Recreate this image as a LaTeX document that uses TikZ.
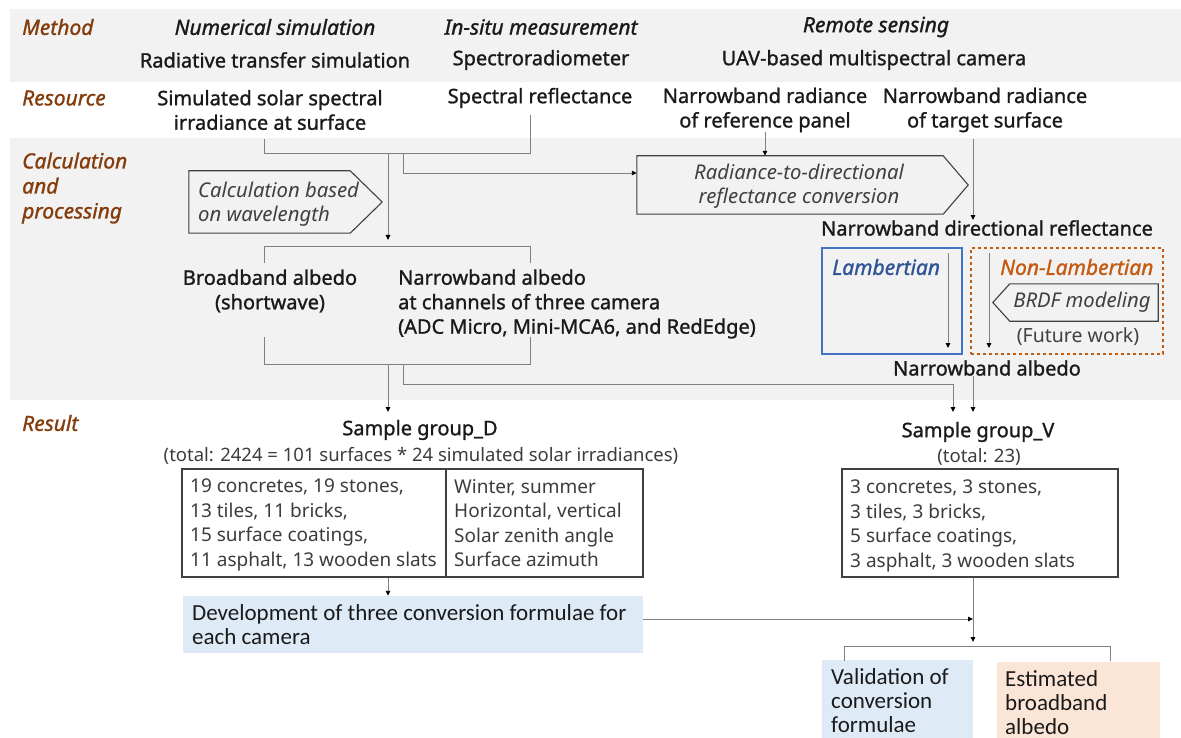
\documentclass[tikz,border=0pt]{standalone}
\usepackage{fontspec}
\setmainfont{Noto Sans}
\newfontfamily\medfont{Noto Sans}[FakeBold=1.2]
\newfontfamily\calfont{Carlito}
\usetikzlibrary{arrows.meta}
\definecolor{band}{HTML}{F2F2F2}
\definecolor{brown}{HTML}{843C0C}
\definecolor{lblue}{HTML}{2F5597}
\definecolor{lborder}{HTML}{4472C4}
\definecolor{orng}{HTML}{C55A11}
\definecolor{linegray}{HTML}{808080}
\definecolor{boxgray}{HTML}{404040}
\definecolor{txtgray}{HTML}{404040}
\definecolor{fillblue}{HTML}{DEEBF7}
\definecolor{fillpeach}{HTML}{FBE5D6}
\definecolor{ink}{HTML}{1A1A1A}
\newcommand{\fs}{\fontsize{20}{24.5}\selectfont}
\newcommand{\fsi}{\fontsize{21}{25}\selectfont}
\newcommand{\fsp}{\fontsize{20.3}{24.5}\selectfont}
\newcommand{\fst}{\fontsize{19}{24.5}\selectfont}
\begin{document}
\begin{tikzpicture}[x=1pt,y=-1pt,
  lbl/.style={anchor=west, inner sep=0pt, text=brown, font=\fsi\medfont\itshape, align=left},
  hd/.style={inner sep=0pt, text=ink, font=\fsi\medfont\itshape},
  tx/.style={inner sep=0pt, text=ink, font=\fs\medfont, align=center},
  lt/.style={inner sep=0pt, text=ink!85, font=\fst, align=left},
  pit/.style={inner sep=0pt, text=txtgray, font=\fsp\itshape},
  conn/.style={draw=linegray, line width=0.9pt},
  arr/.style={conn, -{Triangle[length=5pt,width=4.5pt,color=black]}},
  outline/.style={draw=boxgray, line width=1.1pt},
  cal/.style={inner sep=0pt, text=ink, font=\calfont\fontsize{23}{24}\selectfont, align=left}
]
\useasboundingbox (0,0) rectangle (1181,738);
% bands
\fill[band] (10,9) rectangle (1181,82);
\fill[band] (10,138) rectangle (1181,400);

% row labels
\node[lbl] (mMethod) at (22,27) {Method};
\node[lbl] (mRes) at (22,98) {Resource};
\node[lbl] (mCalc) at (22,188) {Calculation\\and\\processing};
\node[lbl] (mResult) at (22,423) {Result};

% method row
\node[hd] (numsim) at (275,27) {Numerical simulation};
\node[hd] (insitu) at (541,27) {In-situ measurement};
\node[hd] (remote) at (876,27) {Remote sensing};
\node[tx] (rts) at (275,60) {Radiative transfer simulation};
\node[tx] (spectro) at (541,60) {Spectroradiometer};
\node[tx] (uav) at (874,60) {UAV-based multispectral camera};

% resources
\node[tx] (irr) at (270,110) {Simulated solar spectral\\irradiance at surface};
\node[tx] (refl) at (540,98) {Spectral reflectance};
\node[tx] (refp) at (765,110) {Narrowband radiance\\of reference panel};
\node[tx] (targ) at (985,110) {Narrowband radiance\\of target surface};

% calc box
\node[minimum width=193pt, minimum height=62pt, inner sep=0pt] (calcbox) at (285.5,202) {};
\draw[outline] (calcbox.north west) -- ([xshift=-32pt]calcbox.north east) -- (calcbox.east)
  -- ([xshift=-32pt]calcbox.south east) -- (calcbox.south west) -- cycle;
\node[pit, anchor=west, align=left] (calctxt) at (198,204) {Calculation based\\on wavelength};

% radiance box
\node[minimum width=331pt, minimum height=58pt, inner sep=0pt] (radbox) at (802.5,185) {};
\draw[outline] (radbox.north west) -- ([xshift=-25pt]radbox.north east) -- (radbox.east)
  -- ([xshift=-25pt]radbox.south east) -- (radbox.south west) -- cycle;
\node[pit, align=center] (radtxt) at (799,186) {Radiance-to-directional\\reflectance conversion};

% albedo texts
\node[tx] (bb) at (270,291) {Broadband albedo\\(shortwave)};
\node[tx, align=left, anchor=west] (nb) at (398,304) {Narrowband albedo\\at channels of three camera\\(ADC Micro, Mini-MCA6, and RedEdge)};

% right column
\node[tx] (ndr) at (987,228) {Narrowband directional reflectance};
\node[draw=lborder, line width=1.1pt, minimum width=140pt, minimum height=106pt, inner sep=0pt] (lamb) at (892,301) {};
\node[anchor=west, inner sep=0pt, text=lblue, font=\fsi\medfont\itshape] (lambt) at (832,267) {Lambertian};
\node[draw=orng, dashed, line width=1.1pt, minimum width=192pt, minimum height=106pt, inner sep=0pt] (nlamb) at (1067,301) {};
\node[anchor=west, inner sep=0pt, text=orng, font=\fsi\medfont\itshape] (nlambt) at (1000,267) {Non-Lambertian};
\node[minimum width=165pt, minimum height=37pt, inner sep=0pt] (brdf) at (1075.5,302.5) {};
\draw[outline] (brdf.west) -- ([xshift=17pt]brdf.north west) -- (brdf.north east)
  -- (brdf.south east) -- ([xshift=17pt]brdf.south west) -- cycle;
\node[pit] (brdft) at (1082,302.5) {BRDF modeling};
\node[inner sep=0pt, text=txtgray, font=\fontsize{19.5}{24}\selectfont] (fw) at (1078,337) {(Future work)};
\node[tx] (nalb) at (987,368) {Narrowband albedo};

% results
\node[tx] (sgD) at (420,430) {Sample group\_D};
\node[inner sep=0pt, text=ink!85, font=\fontsize{18.5}{24}\selectfont] (totD) at (421,456) {(total: 2424 = 101 surfaces * 24 simulated solar irradiances)};
\node[draw=boxgray, line width=1.1pt, minimum width=461pt, minimum height=108pt, inner sep=0pt] (tabD) at (412.5,523) {};
\coordinate (xDiv) at (446,0);
\draw[draw=boxgray, line width=1.1pt] (tabD.north -| xDiv) -- (tabD.south -| xDiv);
\node[lt, anchor=north west] (tabDl) at (190,479) {19 concretes, 19 stones,\\13 tiles, 11 bricks,\\15 surface coatings,\\11 asphalt, 13 wooden slats};
\node[lt, anchor=north west] (tabDr) at (454,479) {Winter, summer\\Horizontal, vertical\\Solar zenith angle\\Surface azimuth};

\node[tx] (sgV) at (978,432) {Sample group\_V};
\node[inner sep=0pt, text=ink!85, font=\fontsize{18.5}{24}\selectfont] (totV) at (979,457) {(total: 23)};
\node[draw=boxgray, line width=1.1pt, minimum width=276pt, minimum height=108pt, inner sep=0pt] (tabV) at (980,523) {};
\node[lt, anchor=north west] (tabVl) at (850,480) {3 concretes, 3 stones,\\3 tiles, 3 bricks,\\5 surface coatings,\\3 asphalt, 3 wooden slats};

\node[fill=fillblue, minimum width=460pt, minimum height=57pt, inner sep=0pt] (dev) at (413,624.5) {};
\node[cal, anchor=west] (devt) at (192,625) {Development of three conversion formulae for\\each camera};
\node[fill=fillblue, minimum width=151pt, minimum height=80pt, inner sep=0pt, anchor=north west] (val) at (822,660) {};
\node[cal, anchor=north west] (valt) at (831,668) {Validation of\\conversion\\formulae};
\node[fill=fillpeach, minimum width=163pt, minimum height=78pt, inner sep=0pt, anchor=north west] (est) at (997,662) {};
\node[cal, anchor=north west] (estt) at (1005,670) {Estimated\\broadband\\albedo};

% connectors
\coordinate (a1) at (264,139);
\coordinate (a2) at (530,115);
\coordinate (jA) at (388,153);
\coordinate (jA2) at (403,153);
\draw[conn] (a1) |- (530,153) -- (a2);
\draw[arr] (jA) -- (388,240);
\draw[arr] (jA2) |- ([yshift=12pt]radbox.west);
\coordinate (xR) at (765,0);
\draw[arr] (refp.south -| xR) -- (radbox.north -| xR);
\coordinate (xT) at (973,0);
\draw[arr] (973,139) -- (ndr.north -| xT);
\draw[conn] (264,263) |- (530,246) -- (530,263);
\draw[conn] (264,337) |- (530,364) -- (530,337);
\draw[arr] (388,364) -- (388,412);
\draw[arr] (403,364) |- (953,384) -- (953,412);
\draw[arr] (nalb.south -| xT) -- (973,412);
\draw[arr] (948,253) -- (948,348);
\draw[arr] (989,253) -- (989,348);
\coordinate (xD) at (388,0);
\draw[arr] (tabD.south -| xD) -- (dev.north -| xD);
\draw[arr] (dev.east |- 0,619) -- (973,619);
\draw[arr] (tabV.south -| xT) -- (973,642);
\draw[conn] (844,661) |- (1110,646) -- (1110,661);
\end{tikzpicture}
\end{document}
